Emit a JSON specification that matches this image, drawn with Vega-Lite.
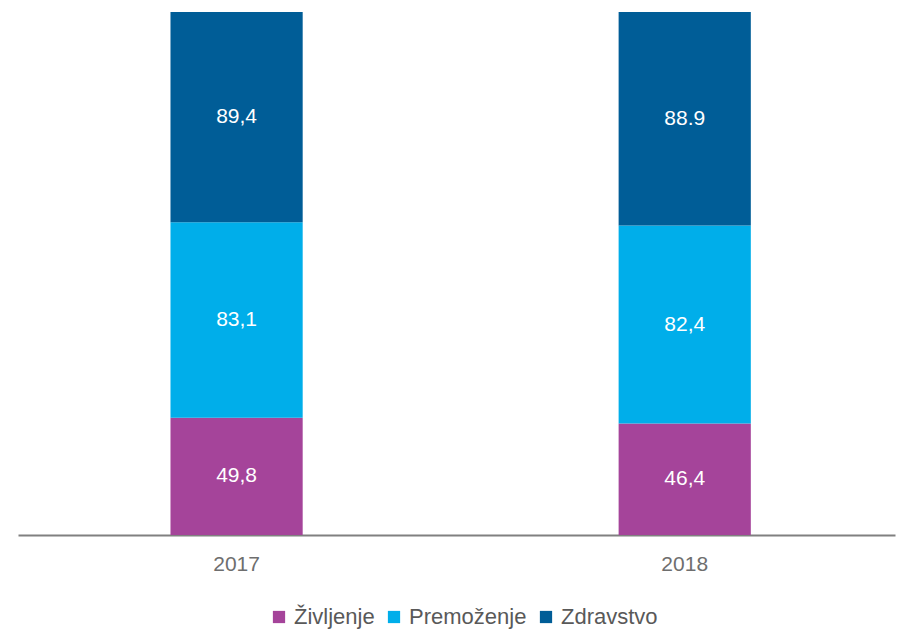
{
  "$schema": "https://vega.github.io/schema/vega-lite/v6.json",
  "width": 877,
  "height": 523,
  "autosize": {"type": "none"},
  "padding": {"left": 18, "top": 12, "right": 3, "bottom": 95},
  "background": "white",
  "config": {"view": {"stroke": null}, "font": "Liberation Sans"},
  "data": {
    "values": [
      {"year": "2017", "category": "Življenje", "order": 1, "value": 49.8, "label": "49,8"},
      {"year": "2017", "category": "Premoženje", "order": 2, "value": 83.1, "label": "83,1"},
      {"year": "2017", "category": "Zdravstvo", "order": 3, "value": 89.4, "label": "89,4"},
      {"year": "2018", "category": "Življenje", "order": 1, "value": 46.4, "label": "46,4"},
      {"year": "2018", "category": "Premoženje", "order": 2, "value": 82.4, "label": "82,4"},
      {"year": "2018", "category": "Zdravstvo", "order": 3, "value": 88.9, "label": "88.9"}
    ]
  },
  "transform": [
    {"stack": "value", "groupby": ["year"], "sort": [{"field": "order"}], "offset": "normalize", "as": ["y0", "y1"]},
    {"calculate": "(datum.y0 + datum.y1) / 2", "as": "ymid"}
  ],
  "encoding": {
    "x": {
      "field": "year", "type": "nominal",
      "scale": {"paddingInner": 0.705, "paddingOuter": 0.331, "align": 0.514},
      "axis": {"title": null, "labelAngle": 0, "ticks": false, "domainColor": "#808080", "domainWidth": 2, "labelColor": "#6e6e6e", "labelFontSize": 21, "labelPadding": 18, "labelFont": "Liberation Sans"}
    }
  },
  "layer": [
    {
      "mark": {"type": "bar"},
      "encoding": {
        "y": {"field": "y0", "type": "quantitative", "scale": {"domain": [0, 1]}, "axis": null},
        "y2": {"field": "y1"},
        "color": {
          "field": "category", "type": "nominal",
          "scale": {"domain": ["Življenje", "Premoženje", "Zdravstvo"], "range": ["#A5449A", "#00AEEA", "#005D97"]},
          "legend": {"title": null, "orient": "none", "legendX": 250, "legendY": 594, "direction": "horizontal", "symbolType": "square", "symbolSize": 150, "symbolStrokeWidth": 0, "labelFontSize": 22, "labelColor": "#595959", "labelFont": "Liberation Sans", "columnPadding": 8, "labelOffset": 4}
        }
      }
    },
    {
      "mark": {"type": "text", "color": "white", "fontSize": 21, "font": "Liberation Sans", "baseline": "middle"},
      "encoding": {
        "y": {"field": "ymid", "type": "quantitative"},
        "text": {"field": "label"}
      }
    }
  ]
}
